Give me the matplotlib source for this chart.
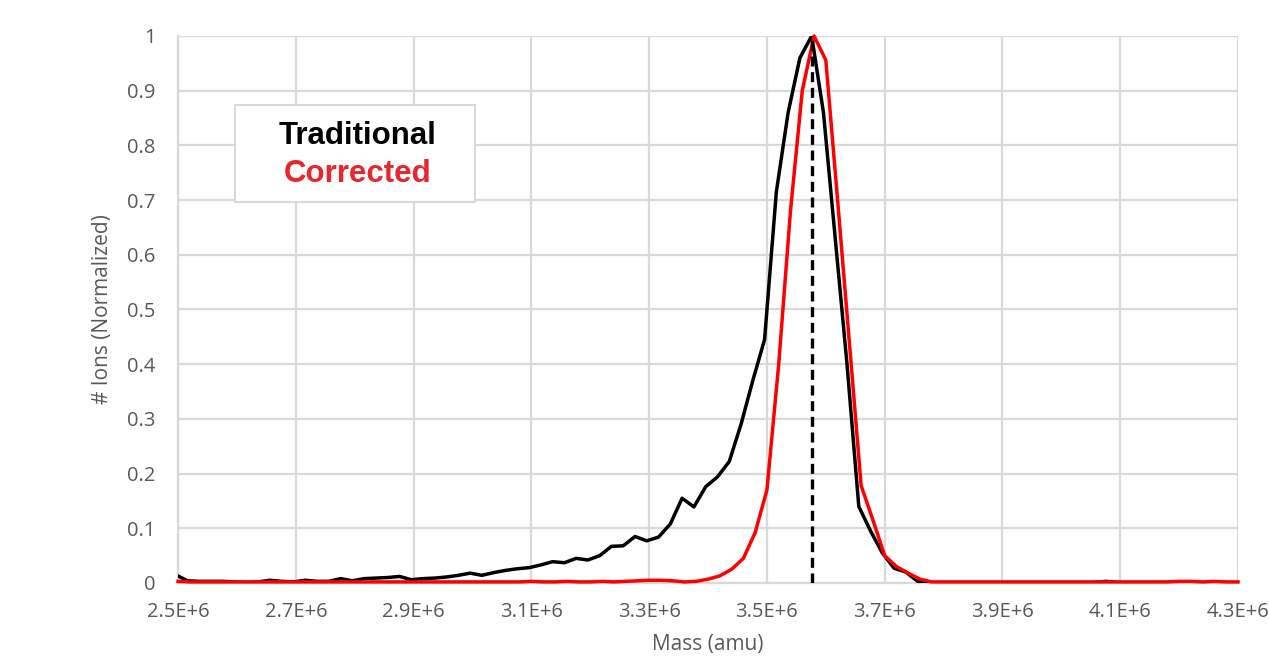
import numpy as np
import matplotlib
matplotlib.use("Agg")
import matplotlib.pyplot as plt
from matplotlib.patches import Rectangle

# mass axis, one sample every 0.02E+6 amu
mass = np.arange(2.5e6, 4.3e6 + 1, 2e4)
# the traditional spectrum sits a little left of the corrected grid
mass_trad = mass - 4e3

traditional = [
    0.015, 0.004, 0.003, 0.003, 0.003, 0.002, 0.001, 0.002, 0.005, 0.003,
    0.002, 0.005, 0.003, 0.003, 0.008, 0.004, 0.008, 0.009, 0.010, 0.012,
    0.006, 0.008, 0.009, 0.011, 0.014, 0.018, 0.014, 0.019, 0.023, 0.026,
    0.028, 0.033, 0.039, 0.037, 0.045, 0.042, 0.050, 0.067, 0.068, 0.085,
    0.077, 0.084, 0.108, 0.155, 0.139, 0.176, 0.194, 0.222, 0.290, 0.370,
    0.445, 0.715, 0.860, 0.960, 1.000, 0.860, 0.630, 0.400, 0.140, 0.095,
    0.055, 0.027, 0.020, 0.003, 0.000, 0.000, 0.000, 0.000, 0.000, 0.000,
    0.000, 0.000, 0.000, 0.000, 0.000, 0.000, 0.000, 0.000, 0.001, 0.003,
    0.001, 0.000, 0.000, 0.000, 0.000, 0.000, 0.000, 0.000, 0.000, 0.000,
    0.000,
]

corrected = [
    0.003, 0.002, 0.002, 0.002, 0.002, 0.002, 0.002, 0.002, 0.002, 0.002,
    0.002, 0.002, 0.002, 0.002, 0.002, 0.002, 0.002, 0.002, 0.002, 0.002,
    0.002, 0.002, 0.002, 0.002, 0.002, 0.002, 0.002, 0.002, 0.002, 0.002,
    0.003, 0.002, 0.002, 0.003, 0.002, 0.002, 0.003, 0.002, 0.003, 0.004,
    0.005, 0.005, 0.004, 0.002, 0.003, 0.007, 0.013, 0.025, 0.045, 0.092,
    0.170, 0.400, 0.680, 0.900, 1.000, 0.956, 0.700, 0.440, 0.178, 0.115,
    0.050, 0.030, 0.018, 0.007, 0.002, 0.002, 0.002, 0.002, 0.002, 0.002,
    0.002, 0.002, 0.002, 0.002, 0.002, 0.002, 0.002, 0.002, 0.002, 0.002,
    0.002, 0.002, 0.002, 0.002, 0.002, 0.003, 0.003, 0.002, 0.003, 0.002,
    0.002,
]

peak_mass = 3.576e6

x_ticks = np.arange(2.5e6, 4.3e6 + 1, 2e5)
y_ticks = np.arange(0, 1.01, 0.1)

grey = "#595959"
grid_col = "#D9D9D9"

fig = plt.figure(figsize=(12.69, 6.64), dpi=100)
ax = fig.add_axes([0.1403, 0.1220, 0.8353, 0.8238])

ax.plot(mass_trad, traditional, color="black", lw=2.5, zorder=3)
ax.plot(mass, corrected, color="#FF0000", lw=2.5, zorder=4, clip_on=False)
ax.axvline(peak_mass, color="black", lw=2.4, ls=(0, (3, 1.7)), zorder=5)

ax.set_xlim(2.5e6, 4.3e6)
ax.set_ylim(0, 1)
ax.set_xticks(x_ticks)
ax.set_yticks(y_ticks)
ax.set_xticklabels(["%.1fE+6" % (v / 1e6) for v in x_ticks])
ax.set_yticklabels(["0" if v == 0 else ("1" if v >= 0.999 else "%.1f" % v) for v in y_ticks])

ax.grid(True, color=grid_col, lw=1.6)
ax.set_axisbelow(True)
for s in ["top", "right"]:
    ax.spines[s].set_visible(False)
for s in ["left", "bottom"]:
    ax.spines[s].set_color(grid_col)
    ax.spines[s].set_linewidth(1.6)
ax.tick_params(length=0, labelsize=14.5, labelcolor=grey)
ax.tick_params(axis="x", pad=14)
ax.tick_params(axis="y", pad=16)
for lab in ax.get_xticklabels() + ax.get_yticklabels():
    lab.set_family("Open Sans")

ax.set_xlabel("Mass (amu)", fontsize=15, color=grey, family="Open Sans", labelpad=8)
ax.set_ylabel("# Ions (Normalized)", fontsize=15, color=grey, family="Open Sans", labelpad=10)

# legend box
ax.add_patch(Rectangle((0.0538, 0.6965), 0.2264, 0.1775, transform=ax.transAxes,
                       facecolor="white", edgecolor=grid_col, lw=1.5, zorder=6))
ax.text(0.1698, 0.817, "Traditional", transform=ax.transAxes, ha="center", va="center",
        fontsize=22.5, fontweight="bold", family="Liberation Sans", color="black", zorder=7)
ax.text(0.1698, 0.748, "Corrected", transform=ax.transAxes, ha="center", va="center",
        fontsize=22.5, fontweight="bold", family="Liberation Sans", color="#E8262D", zorder=7)

fig.savefig("out.png", dpi=100, facecolor="white")
